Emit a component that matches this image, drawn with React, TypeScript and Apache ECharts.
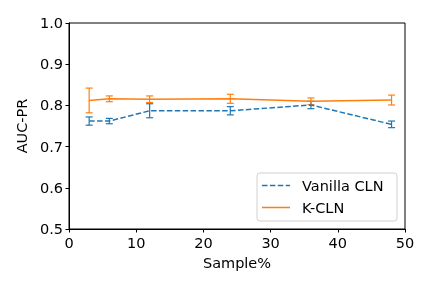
import React, { useEffect, useRef } from "react";
import * as echarts from "echarts";

const samplePct = [3, 6, 12, 24, 36, 48];
const vanillaMean = [0.762, 0.762, 0.787, 0.787, 0.801, 0.754];
const vanillaErr = [0.01, 0.0065, 0.017, 0.01, 0.009, 0.008];
const kclnMean = [0.812, 0.816, 0.815, 0.816, 0.81, 0.813];
const kclnErr = [0.03, 0.007, 0.008, 0.011, 0.008, 0.012];
const xTicks = [0, 10, 20, 30, 40, 50];
const yTicks = [0.5, 0.6, 0.7, 0.8, 0.9, 1.0];
const seriesNames = ["Vanilla CLN", "K-CLN"];

const BLUE = "#1f77b4";
const ORANGE = "#ff7f0e";
const FONT = "DejaVu Sans";

function errSeries(name: string, mean: number[], err: number[], color: string) {
  return {
    type: "custom",
    name: name + " err",
    data: samplePct.map((x, i) => [x, mean[i] - err[i], mean[i] + err[i]]),
    renderItem: (params: any, api: any) => {
      const x = api.value(0);
      const lo = api.coord([x, api.value(1)]);
      const hi = api.coord([x, api.value(2)]);
      const cw = 3.5;
      const style = { stroke: color, lineWidth: 1.2 };
      return {
        type: "group",
        children: [
          { type: "line", shape: { x1: lo[0], y1: lo[1], x2: hi[0], y2: hi[1] }, style },
          { type: "line", shape: { x1: lo[0] - cw, y1: lo[1], x2: lo[0] + cw, y2: lo[1] }, style },
          { type: "line", shape: { x1: hi[0] - cw, y1: hi[1], x2: hi[0] + cw, y2: hi[1] }, style },
        ],
      };
    },
    z: 3,
    silent: true,
  };
}

export default function App() {
  const ref = useRef<HTMLDivElement>(null);
  useEffect(() => {
    const chart = echarts.init(ref.current!, null, { renderer: "svg" });
    const lx = 257, ly = 173, lw = 140, lh = 48;
    chart.setOption({
      animation: false,
      textStyle: { fontFamily: FONT },
      grid: {
        left: 69,
        right: 27,
        top: 23,
        bottom: 59,
        show: true,
        borderColor: "#000",
        borderWidth: 1,
        backgroundColor: "transparent",
      },
      xAxis: {
        type: "value",
        min: xTicks[0],
        max: xTicks[xTicks.length - 1],
        interval: 10,
        name: "Sample%",
        nameLocation: "middle",
        nameGap: 26,
        nameTextStyle: { fontSize: 14.5, color: "#000", fontFamily: FONT },
        axisLine: { show: true, onZero: false, lineStyle: { color: "#000", width: 1 } },
        axisTick: { show: true, length: 3.5, inside: false, lineStyle: { color: "#000" } },
        axisLabel: { fontSize: 14.5, color: "#000", margin: 6, fontFamily: FONT },
        splitLine: { show: false },
      },
      yAxis: {
        type: "value",
        min: yTicks[0],
        max: yTicks[yTicks.length - 1],
        interval: 0.1,
        name: "AUC-PR",
        nameLocation: "middle",
        nameGap: 40,
        nameRotate: 90,
        nameTextStyle: { fontSize: 14.5, color: "#000", fontFamily: FONT },
        axisLine: { show: true, onZero: false, lineStyle: { color: "#000", width: 1 } },
        axisTick: { show: true, length: 3.5, inside: false, lineStyle: { color: "#000" } },
        axisLabel: {
          fontSize: 14.5,
          color: "#000",
          margin: 6,
          fontFamily: FONT,
          formatter: (v: number) => v.toFixed(1),
        },
        splitLine: { show: false },
      },
      graphic: [
        {
          type: "rect",
          shape: { x: lx, y: ly, width: lw, height: lh, r: 3 },
          style: { fill: "rgba(255,255,255,0.8)", stroke: "#d0d0d0", lineWidth: 1 },
          z: 10,
        },
        {
          type: "line",
          shape: { x1: lx + 5, y1: ly + 12.5, x2: lx + 33, y2: ly + 12.5 },
          style: { stroke: BLUE, lineWidth: 1.5, lineDash: [5.5, 2.4] },
          z: 11,
        },
        {
          type: "line",
          shape: { x1: lx + 5, y1: ly + 34.5, x2: lx + 33, y2: ly + 34.5 },
          style: { stroke: ORANGE, lineWidth: 1.5 },
          z: 11,
        },
        {
          type: "text",
          x: lx + 45,
          y: ly + 12.5,
          style: { text: seriesNames[0], fontSize: 14.5, fontFamily: FONT, fill: "#000", verticalAlign: "middle" },
          z: 11,
        },
        {
          type: "text",
          x: lx + 45,
          y: ly + 34.5,
          style: { text: seriesNames[1], fontSize: 14.5, fontFamily: FONT, fill: "#000", verticalAlign: "middle" },
          z: 11,
        },
      ],
      series: [
        {
          type: "line",
          name: seriesNames[0],
          data: samplePct.map((x, i) => [x, vanillaMean[i]]),
          symbol: "none",
          lineStyle: { color: BLUE, width: 1.5, type: [5.5, 2.4] },
          itemStyle: { color: BLUE },
          z: 4,
        },
        {
          type: "line",
          name: seriesNames[1],
          data: samplePct.map((x, i) => [x, kclnMean[i]]),
          symbol: "none",
          lineStyle: { color: ORANGE, width: 1.5 },
          itemStyle: { color: ORANGE },
          z: 4,
        },
        errSeries(seriesNames[0], vanillaMean, vanillaErr, BLUE),
        errSeries(seriesNames[1], kclnMean, kclnErr, ORANGE),
      ],
    });
    return () => chart.dispose();
  }, []);
  return <div ref={ref} style={{ width: 432, height: 288, position: "fixed", left: 0, top: 0 }} />;
}
